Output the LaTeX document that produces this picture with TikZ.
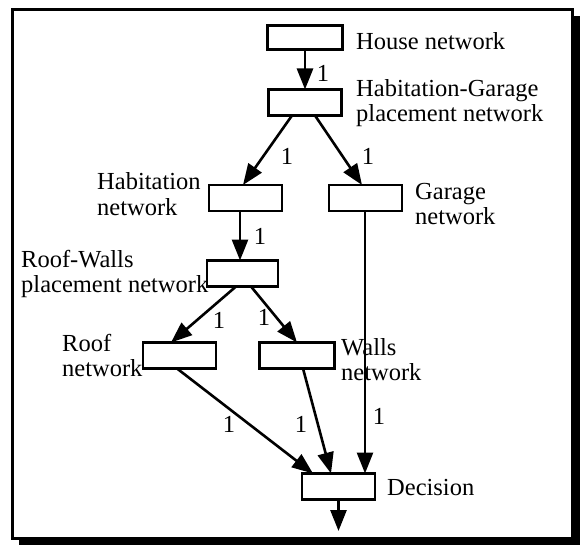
\documentclass[tikz,border=0pt]{standalone}
\usepackage{fontspec}
\setmainfont{Liberation Serif}
\usetikzlibrary{arrows.meta,calc}
\newcommand{\twolines}[2]{\begin{tabular}[t]{@{}l@{}}#1\\#2\end{tabular}}
\begin{document}
\begin{tikzpicture}[x=1pt,y=-1pt,
  box/.style={draw,line width=2.6pt,minimum width=73pt,minimum height=26pt,inner sep=0pt,outer sep=0pt},
  conn/.style={line width=2.6pt,-{Triangle[length=21pt,width=16pt]}},
  lbl/.style={inner sep=0pt,anchor=base west,font=\fontsize{24.5}{25}\selectfont},
  one/.style={inner sep=0pt,font=\fontsize{24.5}{25}\selectfont}]
\useasboundingbox (0,0) rectangle (580,545);
% frame with shadow
\fill[black] (19,16) rectangle (580,545);
\draw[line width=3pt,fill=white] (12,9.5) rectangle (572,538);
% boxes
\node[box,minimum width=75pt,minimum height=24pt] (house) at (305,37.5) {};
\node[box] (hg) at (305,102.5) {};
\node[box] (hab) at (245.5,198) {};
\node[box] (gar) at (365.5,198) {};
\node[box,minimum width=71pt] (rw) at (242.5,273.5) {};
\node[box] (roof) at (179.5,355.5) {};
\node[box,minimum width=75pt] (walls) at (297,355.5) {};
\node[box] (dec) at (338.5,486.5) {};
\coordinate (out) at (338.5,531);
% texts
\node[lbl] (thouse) at (356,50) {House network};
\node[lbl] (thg) at (356,97) {\twolines{Habitation-Garage}{placement network}};
\node[lbl] (thab) at (97,190) {\twolines{Habitation}{network}};
\node[lbl] (tgar) at (415,200) {\twolines{Garage}{network}};
\node[lbl] (trw) at (21,267) {\twolines{Roof-Walls}{placement network}};
\node[lbl] (troof) at (62,351) {\twolines{Roof}{network}};
\node[lbl] (twalls) at (341,355) {\twolines{Walls}{network}};
\node[lbl] (tdec) at (387,495) {Decision};
% connectors
\draw[conn] (house.south) -- (hg.north);
\draw[conn] ([xshift=-13pt]hg.south) -- ([xshift=-2.5pt]hab.north);
\draw[conn] ([xshift=10pt]hg.south) -- ([xshift=-3.5pt]gar.north);
\draw[conn] ([xshift=-5.5pt]hab.south) -- ([xshift=-2.5pt]rw.north);
\draw[conn] ([xshift=-6.5pt]rw.south) -- ([xshift=-8.5pt]roof.north);
\draw[conn] ([xshift=8.5pt]rw.south) -- (walls.north);
\draw[conn] ([xshift=-2.5pt]roof.south) -- ([xshift=-25.5pt]dec.north);
\draw[conn] ([xshift=6pt]walls.south) -- ([xshift=-7.5pt]dec.north);
\draw[conn] ([xshift=-0.5pt]gar.south) -- ([xshift=26.5pt]dec.north);
\draw[conn] (dec.south) -- (out);
% weights
\node[one] (w1) at (323,73) {1};
\node[one] (w2) at (287,156) {1};
\node[one] (w3) at (368,156) {1};
\node[one] (w4) at (260,236) {1};
\node[one] (w5) at (219,320) {1};
\node[one] (w6) at (264,317) {1};
\node[one] (w7) at (229,424) {1};
\node[one] (w8) at (301,424) {1};
\node[one] (w9) at (379,416) {1};
\end{tikzpicture}
\end{document}
